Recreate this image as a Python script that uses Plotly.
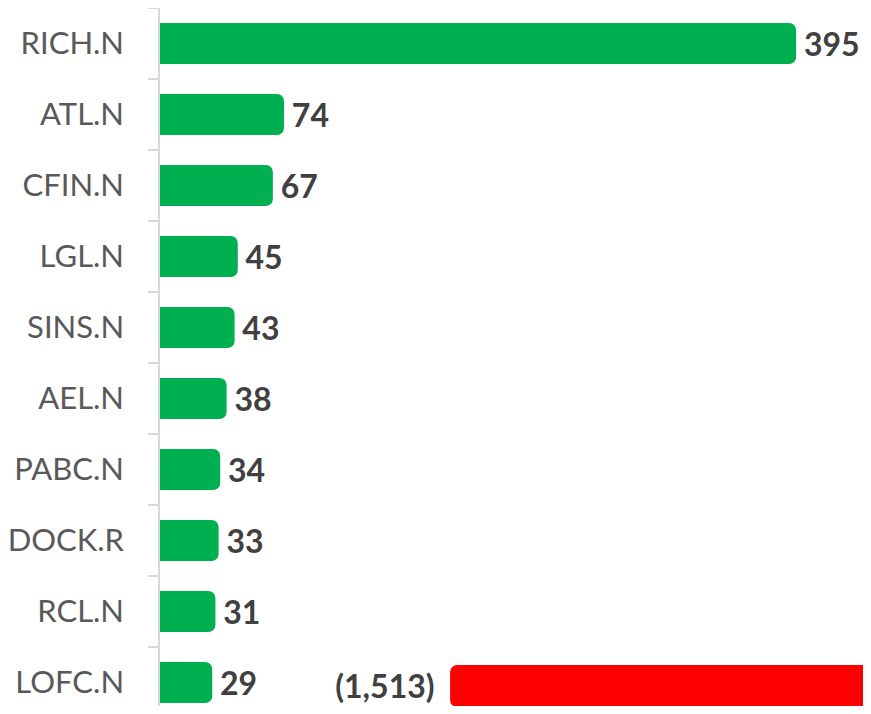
import plotly.graph_objects as go

# ---- data ----
categories = ["RICH.N", "ATL.N", "CFIN.N", "LGL.N", "SINS.N",
              "AEL.N", "PABC.N", "DOCK.R", "RCL.N", "LOFC.N"]
values = [395, 74, 67, 45, 43, 38, 34, 33, 31, 29]

# partially visible bar from the neighbouring panel (cut off at the right edge)
other_categories = ["LOFC.N"]
other_values = [-1513]

GREEN = "#00B050"
RED = "#FF0000"
LABEL_COLOR = "#404040"
TICK_COLOR = "#595959"
AXIS_COLOR = "#D9D9D9"
FONT = "Lato"

green_text = ["\u00a0" + f"{v:,}" for v in values]
red_text = [f"({abs(v):,})" + "\u00a0\u00a0" for v in other_values]

fig = go.Figure()

fig.add_trace(go.Bar(
    y=categories, x=values, orientation="h",
    marker=dict(color=GREEN, line=dict(color=GREEN, width=6), cornerradius=4),
    width=0.493,
    text=green_text, textposition="outside", constraintext="none",
    textfont=dict(family=FONT, size=32, color=LABEL_COLOR, weight="bold"),
    cliponaxis=False, hoverinfo="skip",
    xaxis="x", yaxis="y",
))

fig.add_trace(go.Bar(
    y=other_categories, x=other_values, orientation="h",
    marker=dict(color=RED, line=dict(color=RED, width=6), cornerradius=4),
    width=0.507,
    text=red_text, textposition="outside", constraintext="none",
    textfont=dict(family=FONT, size=32, color=LABEL_COLOR, weight="bold"),
    cliponaxis=False, hoverinfo="skip",
    xaxis="x2", yaxis="y2",
))

fig.update_layout(
    width=855, height=698,
    margin=dict(l=150, r=0, t=0, b=0, pad=0),
    paper_bgcolor="white", plot_bgcolor="rgba(0,0,0,0)",
    showlegend=False,
    font=dict(family=FONT),
    xaxis=dict(domain=[0, 1], range=[-1.875, 438.8], visible=False, anchor="y"),
    yaxis=dict(
        type="category", categoryorder="array", categoryarray=categories,
        range=[9.331, -0.5], domain=[0, 1], anchor="x",
        showline=True, linecolor=AXIS_COLOR, linewidth=1.5,
        ticks="outside", tickson="boundaries", ticklen=10,
        tickcolor=AXIS_COLOR, tickwidth=1.5,
        showgrid=False, zeroline=False,
        tickfont=dict(family=FONT, size=31, color=TICK_COLOR),
        ticklabelstandoff=28,
    ),
    xaxis2=dict(domain=[0.1, 1], range=[-1800, -985], visible=False, anchor="y2"),
    yaxis2=dict(
        type="category", categoryorder="array", categoryarray=other_categories,
        range=[0.282, -9.549], domain=[0, 1], anchor="x2", visible=False,
    ),
)

fig.write_html("out.html")
